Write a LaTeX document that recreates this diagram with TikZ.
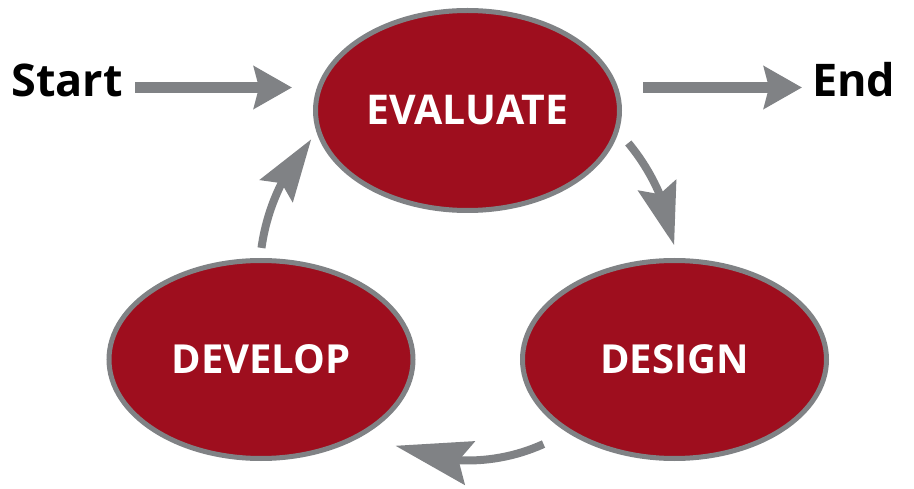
\documentclass[tikz,border=0pt]{standalone}
\usepackage{fontspec}
\setmainfont{Open Sans}
\usetikzlibrary{arrows.meta,bending,shapes.geometric}
\definecolor{stagered}{RGB}{158,14,30}
\definecolor{arrowgray}{RGB}{128,130,133}

\begin{document}
\begin{tikzpicture}[
    x=1pt, y=1pt,
    stage/.style={ellipse, draw=arrowgray, fill=stagered, line width=5pt, outer sep=0pt, inner sep=0pt,
      minimum width=304pt, minimum height=198pt, text=white, font=\fontsize{40}{40}\selectfont\bfseries},
    tag/.style={inner sep=0pt, text height=32pt, text depth=13pt, font=\fontsize{45}{45}\selectfont\bfseries},
    flow/.style={arrowgray, line width=11pt, -{Stealth[length=38pt, width=42pt, inset=5pt]}},
    cyc/.style={arrowgray, line width=8pt, -{Stealth[length=62pt, width=39pt, inset=9pt]}}
  ]
  \useasboundingbox (0,0) rectangle (914,488);

  % the three stages
  \node[stage, minimum height=200pt, font=\fontsize{41}{41}\selectfont\bfseries] (eval) at (467.5,377.5) {EVALUATE};
  \node[stage] (develop) at (261,128.5) {DEVELOP};
  \node[stage] (design) at (674.5,128.5) {DESIGN};

  % entry and exit
  \node[tag, anchor=east] (start) at (123,400.5) {Start};
  \node[tag, anchor=west] (finish) at (812,400.5) {End};
  \draw[flow, shorten <=12pt, shorten >=23.5pt] (start.east) -- (start.east -| eval.west);
  \draw[flow, shorten <=23.5pt, shorten >=10pt] (eval.east |- finish.west) -- (finish.west);

  % cycle arrows round the middle
  \coordinate (hub) at (467.5,211.5);
  \path (hub) ++(39.7:209) coordinate (toDesign)
        (hub) ++(-65.6:184) coordinate (toDevelop)
        (hub) ++(172.1:208) coordinate (toEval);
  \draw[cyc] (toDesign) arc[start angle=39.7, end angle=8.6, radius=209];
  \draw[cyc, -{Stealth[length=76pt, width=44pt, inset=11pt]}] (toDevelop) arc[start angle=-65.6, end angle=-113.1, radius=184];
  \draw[cyc] (toEval) arc[start angle=172.1, end angle=138.7, radius=208];
\end{tikzpicture}
\end{document}
